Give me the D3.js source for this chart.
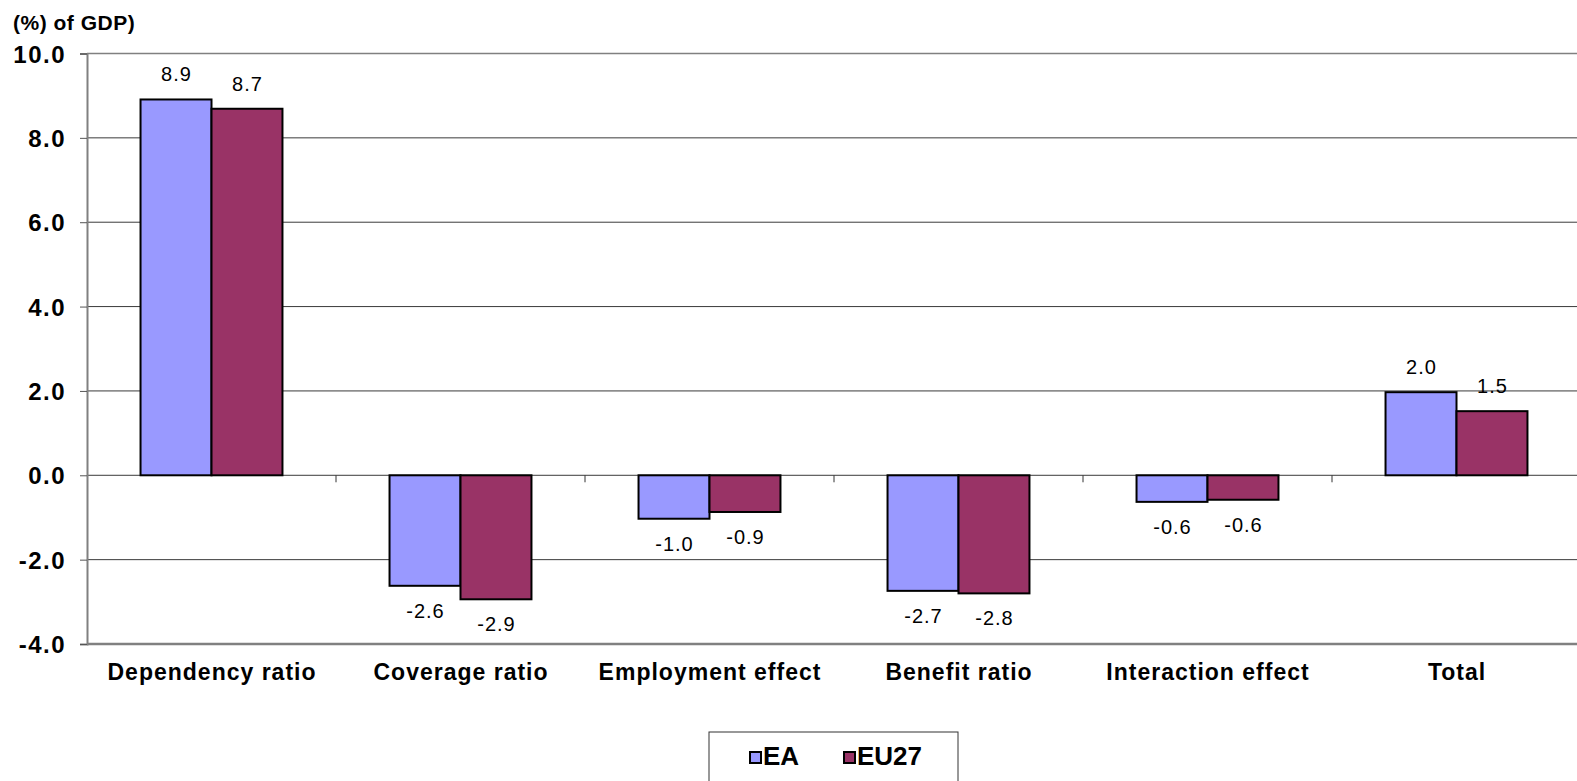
<!DOCTYPE html>
<html>
<head>
<meta charset="utf-8">
<script src="https://cdn.jsdelivr.net/npm/d3@7"></script>
<style>
  body { margin: 0; background: #fff; }
  svg { display: block; font-family: "Liberation Sans", Arial, sans-serif; }
</style>
</head>
<body>
<div id="wrapper"></div>
<script>
// data
const categories = ['Dependency ratio', 'Coverage ratio', 'Employment effect', 'Benefit ratio', 'Interaction effect', 'Total'];
const series = ['EA', 'EU27'];
const eaValues = [8.91, -2.62, -1.03, -2.74, -0.63, 1.97];
const eu27Values = [8.69, -2.94, -0.87, -2.8, -0.58, 1.52];
const yTicks = [10, 8, 6, 4, 2, 0, -2, -4];
const colors = ['#9999ff', '#993366'];

// excel style numbers, plain hyphen for minus
const fmt = v => d3.format('.1f')(v).replace('\u2212', '-');

function drawChart() {
  const width = 1577;
  const height = 781;
  const left = 87, right = 1581, top = 53.5, bottom = 644;

  const svg = d3.select('#wrapper').append('svg').attr('width', width).attr('height', height);

  const x0 = d3.scaleBand().domain(categories).range([left, right]).paddingInner(0.43).paddingOuter(0.215);
  const x1 = d3.scaleBand().domain(series).range([0, x0.bandwidth()]);
  const y = d3.scaleLinear().domain([-4, 10]).range([bottom, top]);
  const color = d3.scaleOrdinal().domain(series).range(colors);

  const rows = categories.map((c, i) => ({ cat: c, values: [
    { key: 'EA', value: eaValues[i] },
    { key: 'EU27', value: eu27Values[i] }
  ] }));

  // gridlines
  svg.append('g')
    .selectAll('line')
    .data(yTicks.filter(d => d !== -4))
    .enter()
    .append('line')
    .attr('x1', left).attr('x2', right)
    .attr('y1', d => y(d)).attr('y2', d => y(d))
    .attr('stroke', d => d === 10 ? '#808080' : '#3a3a3a')
    .attr('stroke-width', d => d === 10 ? 1.5 : 1);

  // y axis
  const yAxis = svg.append('g')
    .attr('transform', `translate(${left},0)`)
    .call(d3.axisLeft(y).tickValues(yTicks).tickSize(7).tickFormat(fmt).tickPadding(14));
  yAxis.select('.domain').attr('stroke', '#808080').attr('stroke-width', 2);
  yAxis.selectAll('.tick line').attr('stroke', '#555');
  yAxis.selectAll('.tick text')
    .attr('font-size', 24).attr('font-weight', 'bold').attr('fill', '#000')
    .attr('font-family', '"Liberation Sans", Arial, sans-serif')
    .attr('letter-spacing', 1.5)
    .attr('dy', '0.36em');

  // bottom axis line
  svg.append('line')
    .attr('x1', left).attr('x2', right)
    .attr('y1', bottom).attr('y2', bottom)
    .attr('stroke', '#808080').attr('stroke-width', 2.5);

  // category ticks on zero line
  const step = x0.step();
  svg.append('g')
    .selectAll('line')
    .data(d3.range(1, categories.length))
    .enter()
    .append('line')
    .attr('x1', i => left + i * step).attr('x2', i => left + i * step)
    .attr('y1', y(0)).attr('y2', y(0) + 7)
    .attr('stroke', '#333');

  // bars
  const groups = svg.append('g')
    .selectAll('g')
    .data(rows)
    .enter()
    .append('g')
    .attr('transform', d => `translate(${x0(d.cat)},0)`);

  groups.selectAll('rect')
    .data(d => d.values)
    .enter()
    .append('rect')
    .attr('x', d => x1(d.key))
    .attr('width', x1.bandwidth())
    .attr('y', d => y(Math.max(0, d.value)))
    .attr('height', d => Math.abs(y(d.value) - y(0)))
    .attr('fill', d => color(d.key))
    .attr('stroke', '#000')
    .attr('stroke-width', 2);

  groups.selectAll('text')
    .data(d => d.values)
    .enter()
    .append('text')
    .attr('x', d => x1(d.key) + x1.bandwidth() / 2 + 0.5)
    .attr('y', d => d.value >= 0 ? y(d.value) - 18 : y(d.value) + 32)
    .attr('text-anchor', 'middle')
    .attr('font-size', 20)
    .attr('letter-spacing', 1)
    .text(d => fmt(d.value));

  // category labels
  svg.append('g')
    .selectAll('text')
    .data(categories)
    .enter()
    .append('text')
    .attr('x', d => x0(d) + x0.bandwidth() / 2 + 0.5)
    .attr('y', 680)
    .attr('text-anchor', 'middle')
    .attr('font-size', 23)
    .attr('font-weight', 'bold')
    .attr('letter-spacing', 1)
    .text(d => d);

  // unit title
  svg.append('text')
    .attr('x', 13).attr('y', 30)
    .attr('font-size', 21).attr('font-weight', 'bold')
    .attr('letter-spacing', 0.5)
    .text('(%) of GDP)');

  // legend
  const legend = svg.append('g');
  legend.append('rect')
    .attr('x', 709).attr('y', 732).attr('width', 249).attr('height', 70)
    .attr('fill', '#fff').attr('stroke', '#333').attr('stroke-width', 1);
  const legendX = [750, 844];
  series.forEach((s, i) => {
    legend.append('rect')
      .attr('x', legendX[i]).attr('y', 752).attr('width', 11).attr('height', 11)
      .attr('fill', color(s)).attr('stroke', '#000').attr('stroke-width', 2);
    legend.append('text')
      .attr('x', legendX[i] + 13).attr('y', 765)
      .attr('font-size', 26).attr('font-weight', 'bold')
      .text(s);
  });
}

drawChart();
</script>
</body>
</html>
